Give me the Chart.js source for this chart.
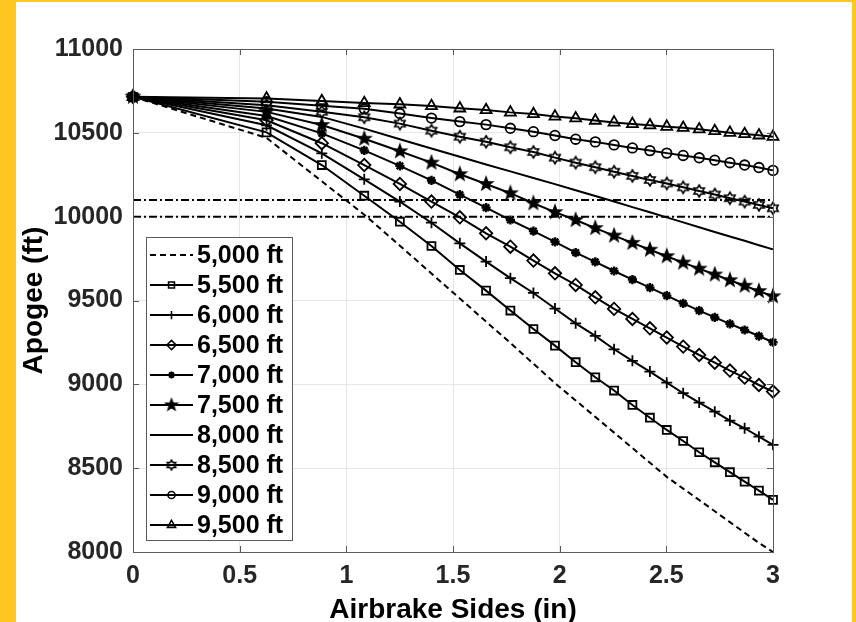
<!DOCTYPE html>
<html>
<head>
<meta charset="utf-8">
<title>Apogee vs Airbrake Sides</title>
<script src="https://cdn.jsdelivr.net/npm/chart.js@4.4.1/dist/chart.umd.min.js"></script>
<style>
  html, body { margin: 0; padding: 0; background: #ffc71f; }
  #apogeeChart { position: absolute; left: 0; top: 0; }
</style>
</head>
<body>
<canvas id="apogeeChart" width="856" height="622"></canvas>
<script>
// airbrake side length (in) at each simulated step
var sides = [0, 0.626, 0.885, 1.084, 1.251, 1.399, 1.532, 1.655, 1.769, 1.877, 1.978, 2.075,
             2.167, 2.255, 2.341, 2.423, 2.502, 2.579, 2.654, 2.727, 2.798, 2.867, 2.934, 3.0];

var seriesNames = ['5,000 ft', '5,500 ft', '6,000 ft', '6,500 ft', '7,000 ft',
                   '7,500 ft', '8,000 ft', '8,500 ft', '9,000 ft', '9,500 ft'];

// apogee (ft) for each deployment altitude
var apogee5000 = [10715, 10470, 10211, 10012, 9827, 9661, 9512, 9374, 9247, 9123, 9007, 8904,
                  8806, 8712, 8620, 8532, 8448, 8378, 8310, 8243, 8178, 8115, 8054, 8000];
var apogee5500 = [10715, 10503, 10308, 10125, 9970, 9825, 9682, 9559, 9440, 9330, 9231, 9132,
                  9042, 8963, 8877, 8801, 8728, 8662, 8595, 8535, 8476, 8420, 8366, 8311];
var apogee6000 = [10715, 10545, 10378, 10223, 10090, 9964, 9841, 9732, 9633, 9545, 9452, 9364,
                  9289, 9209, 9140, 9076, 9010, 8947, 8891, 8837, 8784, 8738, 8688, 8639];
var apogee6500 = [10715, 10575, 10438, 10308, 10195, 10090, 9996, 9901, 9821, 9738, 9662, 9593,
                  9519, 9450, 9390, 9334, 9279, 9225, 9175, 9129, 9082, 9040, 8996, 8957];
var apogee7000 = [10715, 10600, 10497, 10395, 10303, 10216, 10131, 10054, 9980, 9914, 9850, 9785,
                  9730, 9676, 9625, 9577, 9529, 9483, 9440, 9399, 9361, 9324, 9288, 9251];
var apogee7500 = [10715, 10625, 10547, 10465, 10390, 10322, 10253, 10195, 10140, 10080, 10027, 9980,
                  9932, 9887, 9844, 9803, 9764, 9726, 9690, 9655, 9621, 9588, 9556, 9525];
var apogee8000 = [10715, 10645, 10595, 10525, 10462, 10407, 10357, 10311, 10270, 10231, 10194, 10158,
                  10123, 10090, 10057, 10026, 9996, 9966, 9937, 9909, 9882, 9856, 9830, 9805];
var apogee8500 = [10715, 10665, 10626, 10593, 10555, 10513, 10477, 10447, 10414, 10386, 10352, 10322,
                  10295, 10268, 10243, 10219, 10198, 10175, 10153, 10132, 10110, 10090, 10070, 10050];
var apogee9000 = [10715, 10685, 10662, 10643, 10615, 10588, 10567, 10549, 10527, 10507, 10484, 10462,
                  10446, 10428, 10410, 10394, 10379, 10365, 10351, 10337, 10322, 10308, 10293, 10276];
var apogee9500 = [10715, 10705, 10690, 10678, 10670, 10660, 10646, 10636, 10622, 10612, 10598, 10587,
                  10573, 10562, 10553, 10545, 10537, 10530, 10521, 10511, 10501, 10493, 10485, 10477];

// target apogee band
var targetLines = [10000, 10100];

var xTicks = [0, 0.5, 1, 1.5, 2, 2.5, 3];
var yTicks = [8000, 8500, 9000, 9500, 10000, 10500, 11000];

var FONT = '"Liberation Sans", Arial, Helvetica, sans-serif';

// little canvases for the marker shapes Chart.js doesn't have
function starMarker(nPoints, outerR, innerR, filled) {
    var c = document.createElement('canvas');
    var s = Math.ceil(outerR * 2 + 4);
    c.width = s; c.height = s;
    var g = c.getContext('2d');
    g.translate(s / 2, s / 2);
    g.beginPath();
    for (var i = 0; i < nPoints * 2; i++) {
        var r = i % 2 === 0 ? outerR : innerR;
        var a = -Math.PI / 2 + i * Math.PI / nPoints;
        if (i === 0) g.moveTo(r * Math.cos(a), r * Math.sin(a));
        else g.lineTo(r * Math.cos(a), r * Math.sin(a));
    }
    g.closePath();
    if (filled) { g.fillStyle = '#000'; g.fill(); }
    g.strokeStyle = '#000';
    g.lineWidth = 1.6;
    g.stroke();
    return c;
}
var pentagram = starMarker(5, 6.6, 2.7, true);
var hexagram = starMarker(6, 6, 3.5, false);
var pentagramSmall = starMarker(5, 5.6, 2.3, true);
var hexagramSmall = starMarker(6, 4.8, 2.8, false);

var allSeries = [apogee5000, apogee5500, apogee6000, apogee6500, apogee7000,
                 apogee7500, apogee8000, apogee8500, apogee9000, apogee9500];

var markerStyles = [
    { style: 'circle', radius: 0, dash: [6, 4] },
    { style: 'rect', radius: 5.6 },
    { style: 'cross', radius: 5.5 },
    { style: 'rectRot', radius: 6.2 },
    { style: 'star', radius: 4.6, width: 2.4 },
    { style: pentagram, radius: 7, legend: pentagramSmall },
    { style: 'circle', radius: 0 },
    { style: hexagram, radius: 6, legend: hexagramSmall },
    { style: 'circle', radius: 4.8 },
    { style: 'triangle', radius: 6.3 }
];

function toPoints(vals) {
    return vals.map(function (v, i) { return { x: sides[i], y: v }; });
}

var datasets = allSeries.map(function (vals, i) {
    var m = markerStyles[i];
    return {
        label: seriesNames[i],
        data: toPoints(vals),
        borderColor: '#000',
        borderWidth: 2,
        borderDash: m.dash || [],
        pointStyle: m.style,
        legendStyle: m.legend || m.style,
        pointRadius: m.radius,
        pointBorderWidth: m.width || 1.8,
        pointBorderColor: '#000',
        pointBackgroundColor: 'rgba(0,0,0,0)',
        tension: 0,
        clip: false
    };
});

targetLines.forEach(function (lvl) {
    datasets.push({
        label: 'target ' + lvl,
        isRef: true,
        data: [{ x: xTicks[0], y: lvl }, { x: xTicks[xTicks.length - 1], y: lvl }],
        borderColor: '#000',
        borderWidth: 2,
        borderDash: [8, 3, 2, 3],
        pointRadius: 0,
        clip: false
    });
});

// yellow frame, axes box with inward ticks, legend inside the plot
var framePlugin = {
    id: 'frame',
    beforeDraw: function (chart) {
        var ctx = chart.ctx;
        ctx.save();
        ctx.fillStyle = '#ffc71f';
        ctx.fillRect(0, 0, chart.width, chart.height);
        ctx.fillStyle = '#ffffff';
        ctx.fillRect(16, 2, 836, 620);
        ctx.restore();
    },
    afterDraw: function (chart) {
        var ctx = chart.ctx, a = chart.chartArea;
        var xs = chart.scales.x, ys = chart.scales.y;
        ctx.save();
        ctx.strokeStyle = '#5a5a5a';
        ctx.lineWidth = 1;
        ctx.beginPath();
        xTicks.forEach(function (v) {
            var px = Math.round(xs.getPixelForValue(v)) + 0.5;
            ctx.moveTo(px, a.bottom); ctx.lineTo(px, a.bottom - 6);
            ctx.moveTo(px, a.top); ctx.lineTo(px, a.top + 6);
        });
        yTicks.forEach(function (v) {
            var py = Math.round(ys.getPixelForValue(v)) + 0.5;
            ctx.moveTo(a.left, py); ctx.lineTo(a.left + 6, py);
            ctx.moveTo(a.right, py); ctx.lineTo(a.right - 6, py);
        });
        ctx.stroke();
        ctx.strokeRect(Math.round(a.left) + 0.5, Math.round(a.top) + 0.5,
                       Math.round(a.right - a.left), Math.round(a.bottom - a.top));

        // legend
        var bx = 146, by = 237, bw = 146, bh = 303;
        ctx.fillStyle = '#ffffff';
        ctx.fillRect(bx, by, bw, bh);
        ctx.strokeStyle = '#5a5a5a';
        ctx.strokeRect(bx + 0.5, by + 0.5, bw, bh);
        var items = chart.data.datasets.filter(function (d) { return !d.isRef; });
        items.forEach(function (d, i) {
            var cy = by + 18 + i * 30;
            ctx.strokeStyle = '#000';
            ctx.lineWidth = 2;
            ctx.setLineDash(d.borderDash || []);
            ctx.beginPath();
            ctx.moveTo(150, cy); ctx.lineTo(193, cy);
            ctx.stroke();
            ctx.setLineDash([]);
            if (d.pointRadius > 0 && Chart.helpers && Chart.helpers.drawPoint) {
                ctx.fillStyle = 'rgba(0,0,0,0)';
                ctx.lineWidth = d.pointBorderWidth * 0.85;
                Chart.helpers.drawPoint(ctx, {
                    pointStyle: d.legendStyle, radius: d.pointRadius * 0.75,
                    borderWidth: d.pointBorderWidth, rotation: 0
                }, 171.5, cy);
            }
            ctx.fillStyle = '#000';
            ctx.font = 'bold 25px ' + FONT;
            ctx.textAlign = 'left';
            ctx.textBaseline = 'middle';
            ctx.fillText(d.label, 197, cy + 1);
        });
        ctx.restore();
    }
};

var ctx = document.getElementById('apogeeChart').getContext('2d');
var chart = new Chart(ctx, {
    type: 'line',
    data: { datasets: datasets },
    plugins: [framePlugin],
    options: {
        responsive: false,
        animation: false,
        events: [],
        layout: { padding: { left: 16, top: 49, right: 83, bottom: 0 } },
        plugins: {
            legend: { display: false },
            tooltip: { enabled: false },
            title: { display: false }
        },
        scales: {
            x: {
                type: 'linear',
                min: 0,
                max: 3,
                afterBuildTicks: function (s) {
                    s.ticks = xTicks.map(function (v) { return { value: v }; });
                },
                afterFit: function (s) { s.height = 70; },
                ticks: {
                    callback: function (v) { return String(v); },
                    font: { family: FONT, size: 25, weight: 'bold' },
                    color: '#262626',
                    padding: 9,
                    maxRotation: 0,
                    autoSkip: false
                },
                grid: { color: '#e6e6e6', lineWidth: 1, drawTicks: false },
                border: { display: false },
                title: {
                    display: true,
                    text: 'Airbrake Sides (in)',
                    font: { family: FONT, size: 28, weight: 'bold', lineHeight: 1 },
                    color: '#000',
                    padding: { top: 0, bottom: -2 }
                }
            },
            y: {
                type: 'linear',
                min: 8000,
                max: 11000,
                afterBuildTicks: function (s) {
                    s.ticks = yTicks.map(function (v) { return { value: v }; });
                },
                afterFit: function (s) { s.width = 117; },
                ticks: {
                    callback: function (v) { return String(v); },
                    font: { family: FONT, size: 25, weight: 'bold' },
                    color: '#262626',
                    padding: 10,
                    autoSkip: false
                },
                grid: { color: '#e6e6e6', lineWidth: 1, drawTicks: false },
                border: { display: false },
                title: {
                    display: true,
                    text: 'Apogee (ft)',
                    font: { family: FONT, size: 28, weight: 'bold', lineHeight: 1 },
                    color: '#000',
                    padding: { top: 4, bottom: 0 }
                }
            }
        }
    }
});
</script>
</body>
</html>
